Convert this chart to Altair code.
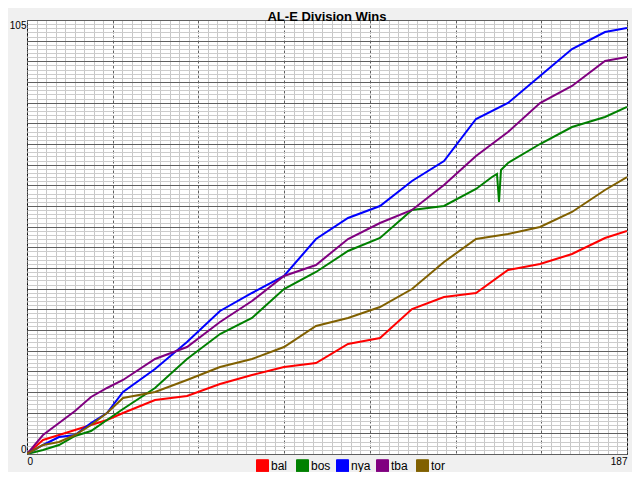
import altair as alt
import pandas as pd

teams = ["bal", "bos", "nya", "tba", "tor"]
colors = ["#ff0000", "#008000", "#0000ff", "#800080", "#806000"]

games = [0, 5, 10, 15, 20, 25, 30, 40, 50, 60, 70, 80, 90, 100, 110, 120, 130, 140, 150, 160, 170, 180, 187]
bal = [0, 3.4, 4.6, 5.8, 7, 8.2, 9.8, 13, 14, 17, 19, 21, 22, 26.5, 28, 35, 38, 39, 44.4, 46, 48.5, 52.3, 54]
nya = [0, 2.2, 4, 4.6, 7.4, 9.8, 15, 20.5, 27, 34.5, 39, 43, 52, 57, 60, 66, 71, 81, 85, 91.5, 98, 102, 103]
tba = [0, 4.6, 7.4, 10.3, 13.7, 16, 18, 23, 26, 32, 37, 43, 45.7, 52, 56, 59, 65, 72, 78, 85, 89, 95, 96]
tor = [0, 2.2, 3, 4.5, 7, 10, 13.5, 15, 18, 21, 23, 26, 31, 33, 35.6, 40, 46.5, 52, 53.3, 55, 58.6, 63.8, 67]
bos_games = [0, 5, 10, 15, 20, 25, 30, 40, 50, 60, 70, 80, 90, 100, 110, 120, 130, 140, 145, 146.4, 147.2, 147.8, 150, 160, 170, 180, 187]
bos = [0, 1, 2.2, 4.4, 5.5, 8.2, 11, 16, 23, 29, 33, 40, 44, 49, 52.3, 59, 60, 64, 67, 67.8, 61, 68.6, 70.5, 75, 79, 81.6, 84]

series = {
    "bal": (games, bal),
    "bos": (bos_games, bos),
    "nya": (games, nya),
    "tba": (games, tba),
    "tor": (games, tor),
}
rows = []
for t in teams:
    gx, wy = series[t]
    for g, w in zip(gx, wy):
        rows.append({"team": t, "game": g, "wins": w})
df = pd.DataFrame(rows)

X_MAX = 187
Y_MAX = 105
x_grid = [k * X_MAX / 63 for k in range(64)]
y_grid = list(range(0, Y_MAX + 1))

x_axis = alt.Axis(
    values=x_grid,
    format="d",
    labelExpr="datum.value == 0 || datum.value == 187 ? datum.label : ''",
    labelFlush=True,
    labelOverlap=False,
    labelFontSize=10,
    labelFont="Liberation Sans",
    labelColor="#000000",
    labelPadding=2,
    ticks=False,
    domain=False,
    title=None,
    gridColor={"condition": {"test": "round(datum.value*63/187) % 9 == 0", "value": "#606060"}, "value": "#c8c8c8"},
    gridDash={"condition": {"test": "round(datum.value*63/187) % 9 == 0", "value": [3, 2]}, "value": []},
    gridOpacity=1,
    gridWidth=1,
)
y_axis = alt.Axis(
    values=y_grid,
    format="d",
    labelExpr="datum.value == 0 || datum.value == 105 ? datum.label : ''",
    labelFlush=True,
    labelOverlap=False,
    labelFontSize=10,
    labelFont="Liberation Sans",
    labelColor="#000000",
    labelPadding=1,
    ticks=False,
    domain=False,
    title=None,
    gridColor={"condition": {"test": "datum.value % 5 == 0", "value": "#606060"}, "value": "#cccccc"},
    gridOpacity=1,
    gridWidth=1,
)

legend = alt.Legend(
    title=None,
    orient="none",
    legendX=229,
    legendY=439,
    direction="horizontal",
    columns=5,
    gridAlign="all",
    columnPadding=3,
    symbolType="square",
    symbolSize=144,
    symbolStrokeColor="#000000",
    symbolStrokeWidth=1,
    symbolOpacity=1,
    labelFontSize=12,
    labelFont="Liberation Sans",
    labelColor="#000000",
    labelOffset=2,
)

xs = alt.X("game:Q", scale=alt.Scale(domain=[0, X_MAX], nice=False, zero=True, round=True), axis=x_axis)
ys = alt.Y("wins:Q", scale=alt.Scale(domain=[0, Y_MAX], nice=False, round=True), axis=y_axis)
cscale = alt.Scale(domain=teams, range=colors)

base = alt.Chart(df)
keys = base.mark_square(
    filled=True, size=0, strokeWidth=0, opacity=0
).encode(
    x=xs,
    y=ys,
    color=alt.Color("team:N", scale=cscale, legend=legend),
)
lines = base.mark_line(strokeWidth=2, clip=True).encode(
    x=xs,
    y=ys,
    color=alt.Color("team:N", scale=cscale, legend=legend),
    order=alt.Order("game:Q"),
)

chart = (
    alt.layer(keys, lines)
    .properties(
        width=600,
        height=434,
        title=alt.Title("AL-E Division Wins", font="Liberation Sans", fontSize=13, fontWeight="bold", color="#000000", anchor="middle", offset=3, baseline="alphabetic", dy=18),
        autosize=alt.AutoSizeParams(type="none"),
        padding={"left": 19, "top": 12, "right": 5, "bottom": 18},
        background="#f0f0f0",
    )
    .configure_view(stroke="#000000", strokeWidth=1, fill="#ffffff")
)

chart.save("out.html", embed_options={"renderer": "svg", "actions": False})
